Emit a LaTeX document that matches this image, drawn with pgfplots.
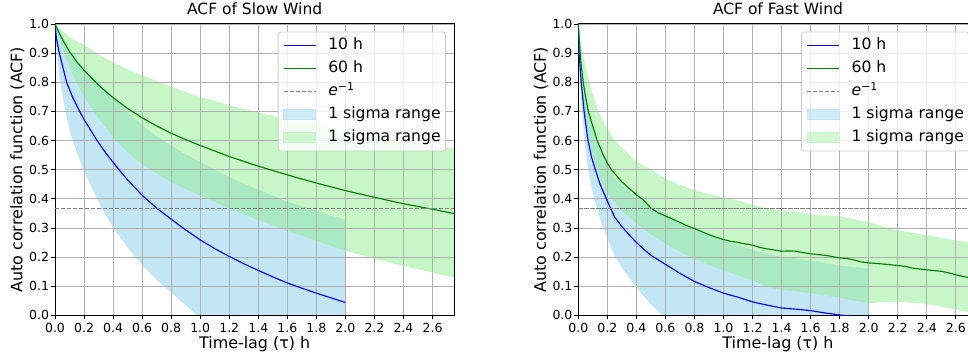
\documentclass[border=0pt]{standalone}
\usepackage{fontspec}
\setmainfont{DejaVu Sans}
\usepackage{pgfplots}
\pgfplotsset{compat=1.18}
\definecolor{mplblue}{RGB}{0,0,255}
\definecolor{mplgreen}{RGB}{0,128,0}
\definecolor{skyband}{RGB}{135,206,235}
\definecolor{greenband}{RGB}{144,238,144}
\definecolor{skyleg}{RGB}{195,230,245}
\definecolor{greenlegc}{RGB}{200,246,200}
\definecolor{gridgray}{RGB}{176,176,176}
\definecolor{dashgray}{RGB}{128,128,128}
\definecolor{legedge}{RGB}{204,204,204}

\pgfplotsset{
  acf/.style={
    set layers, clip mode=individual,
    scale only axis, width=399.3pt, height=291.3pt, anchor=south west,
    xmin=0, xmax=2.75, ymin=0, ymax=1,
    xtick={0,0.2,0.4,0.6,0.8,1.0,1.2,1.4,1.6,1.8,2.0,2.2,2.4,2.6},
    ytick={0,0.1,0.2,0.3,0.4,0.5,0.6,0.7,0.8,0.9,1.0},
    /pgf/number format/assume math mode=true,
    xticklabel style={/pgf/number format/.cd, fixed, fixed zerofill, precision=1, /tikz/.cd,
      font=\fontsize{12.5}{14}\selectfont, inner sep=0pt, anchor=north, yshift=-3.4pt},
    yticklabel style={/pgf/number format/.cd, fixed, fixed zerofill, precision=1, /tikz/.cd,
      font=\fontsize{12.5}{14}\selectfont, inner sep=0pt, anchor=east, xshift=-1.7pt},
    grid=major, major grid style={draw=gridgray, line width=0.8pt},
    tick pos=left, tick align=outside, major tick length=4pt,
    tick style={black, line width=0.8pt},
    axis line style={black, line width=1pt},
    title style={at={(axis description cs:0.5,1)}, anchor=base, yshift=3pt, font=\fontsize{15.5}{17}\selectfont},
    xlabel={Time-lag (τ) h},
    ylabel={Auto correlation function (ACF)},
    xlabel style={at={(axis description cs:0.5,0)}, anchor=base, yshift=-33pt, font=\fontsize{15.9}{18}\selectfont},
    ylabel style={at={(axis description cs:-0.0814,0.5)}, anchor=base, font=\fontsize{15.9}{18}\selectfont},
    legend cell align=left,
    legend style={at={(axis description cs:1,1)}, anchor=north east, xshift=-8.3pt, yshift=-7.7pt,
      draw=legedge, line width=0.8pt, rounded corners=2.5pt, fill=white, fill opacity=0.8, text opacity=1,
      font=\fontsize{15.6}{18}\selectfont, inner xsep=5pt, inner ysep=6pt,
      row sep=8pt, column sep=12pt,
      nodes={inner sep=0pt, text height=11.5pt, text depth=3.5pt}},
  },
  curve/.style={line width=1.15pt},
  legA/.style={legend image code/.code={\draw[mplblue, line width=1.15pt, solid, sharp corners] (0pt,0pt)--(32pt,0pt);}},
  legB/.style={legend image code/.code={\draw[mplgreen, line width=1.15pt, solid, sharp corners] (0pt,0pt)--(32pt,0pt);}},
  legC/.style={legend image code/.code={\draw[dashgray, line width=1.1pt, dash pattern=on 4.2pt off 1.8pt] (0pt,0pt)--(32pt,0pt);}},
  legD/.style={legend image code/.code={\fill[skyleg, sharp corners] (0pt,-5pt) rectangle (32pt,5pt);}},
  legE/.style={legend image code/.code={\fill[greenlegc, sharp corners] (0pt,-5pt) rectangle (32pt,5pt);}},
}

\begin{document}
\begin{tikzpicture}
% ---------------- Slow wind ----------------
\begin{axis}[acf, at={(55pt,42.7pt)}, title={ACF of Slow Wind}]
\addplot[draw=none, fill=skyband, fill opacity=0.5, on layer=axis background, forget plot] coordinates {
(0,1.0)(0.01,0.99)(0.03,0.98)(0.06,0.95)(0.1,0.915)(0.15,0.88)(0.2,0.849)(0.3,0.798)(0.4,0.75)(0.5,0.697)(0.6,0.652)(0.7,0.614)(0.8,0.582)(0.9,0.552)(1.0,0.527)(1.2,0.474)(1.4,0.431)(1.6,0.391)(1.8,0.358)(2.0,0.328)
(2.0,0)(0.98,0)(0.9,0.034)(0.8,0.078)(0.7,0.122)(0.6,0.172)(0.5,0.233)(0.4,0.30)(0.3,0.388)(0.2,0.495)(0.15,0.56)(0.1,0.635)(0.06,0.73)(0.03,0.82)(0.01,0.91)(0,1.0)};
\addplot[draw=none, fill=greenband, fill opacity=0.5, on layer=axis background, forget plot] coordinates {
(0,1.0)(0.05,0.978)(0.1,0.955)(0.15,0.94)(0.2,0.929)(0.3,0.895)(0.4,0.869)(0.5,0.845)(0.6,0.824)(0.7,0.804)(0.8,0.785)(0.9,0.767)(1.0,0.75)(1.2,0.722)(1.4,0.696)(1.6,0.673)(1.8,0.652)(2.0,0.633)(2.2,0.615)(2.4,0.597)(2.6,0.582)(2.75,0.572)
(2.75,0.128)(2.6,0.147)(2.4,0.169)(2.2,0.194)(2.0,0.221)(1.8,0.255)(1.6,0.29)(1.4,0.327)(1.2,0.367)(1.0,0.411)(0.9,0.433)(0.8,0.457)(0.7,0.487)(0.6,0.518)(0.5,0.56)(0.4,0.612)(0.3,0.676)(0.2,0.751)(0.15,0.795)(0.1,0.852)(0.05,0.918)(0,1.0)};
\addplot[mplblue, curve, forget plot] coordinates {
(0,1.0)(0.01,0.95)(0.03,0.9)(0.08,0.8)(0.12,0.75)(0.17,0.7)(0.2,0.672)(0.29,0.6)(0.35,0.557)(0.4,0.525)(0.44,0.5)(0.5,0.465)(0.6,0.412)(0.7,0.368)(0.8,0.33)(0.9,0.293)(1.0,0.259)(1.1,0.229)(1.2,0.202)(1.3,0.177)(1.4,0.154)(1.5,0.132)(1.6,0.111)(1.7,0.093)(1.8,0.076)(1.9,0.06)(2.0,0.044)};
\addplot[mplgreen, curve, forget plot] coordinates {
(0,1.0)(0.02,0.978)(0.05,0.948)(0.1,0.905)(0.15,0.87)(0.2,0.841)(0.3,0.79)(0.4,0.747)(0.5,0.71)(0.6,0.678)(0.7,0.65)(0.8,0.625)(0.9,0.603)(1.0,0.583)(1.2,0.545)(1.4,0.512)(1.6,0.482)(1.8,0.454)(2.0,0.428)(2.2,0.405)(2.4,0.383)(2.6,0.364)(2.75,0.349)};
\addplot[dashgray, line width=1.1pt, dash pattern=on 4.2pt off 1.8pt, forget plot] coordinates {(0,0.3679)(2.75,0.3679)};
\addlegendimage{legA}
\addlegendentry{10 h}
\addlegendimage{legB}
\addlegendentry{60 h}
\addlegendimage{legC}
\addlegendentry{\textit{e}\textsuperscript{−1}}
\addlegendimage{legD}
\addlegendentry{1 sigma range}
\addlegendimage{legE}
\addlegendentry{1 sigma range}
\end{axis}

% ---------------- Fast wind ----------------
\begin{axis}[acf, at={(578.3pt,42.7pt)}, title={ACF of Fast Wind}]
\addplot[draw=none, fill=skyband, fill opacity=0.5, on layer=axis background, forget plot] coordinates {
(0,1.0)(0.005,0.93)(0.02,0.86)(0.04,0.78)(0.067,0.7)(0.1,0.638)(0.15,0.57)(0.2,0.519)(0.25,0.47)(0.3,0.445)(0.4,0.405)(0.5,0.374)(0.6,0.35)(0.7,0.322)(0.8,0.296)(0.9,0.275)(1.0,0.256)(1.2,0.224)(1.4,0.2)(1.6,0.188)(1.8,0.171)(2.0,0.16)
(2.0,0)(0.58,0)(0.5,0.038)(0.4,0.095)(0.3,0.165)(0.25,0.204)(0.2,0.265)(0.15,0.33)(0.1,0.418)(0.067,0.5)(0.04,0.62)(0.02,0.74)(0.005,0.87)(0,1.0)};
\addplot[draw=none, fill=greenband, fill opacity=0.5, on layer=axis background, forget plot] coordinates {
(0,1.0)(0.01,0.96)(0.034,0.89)(0.069,0.81)(0.1,0.76)(0.138,0.7)(0.2,0.64)(0.253,0.6)(0.3,0.575)(0.4,0.528)(0.5,0.5)(0.6,0.47)(0.7,0.448)(0.8,0.43)(0.9,0.416)(1.0,0.405)(1.1,0.394)(1.2,0.38)(1.3,0.367)(1.4,0.36)(1.5,0.355)(1.6,0.346)(1.7,0.342)(1.8,0.34)(1.9,0.33)(2.0,0.32)(2.1,0.305)(2.2,0.292)(2.3,0.283)(2.4,0.275)(2.5,0.266)(2.6,0.257)(2.7,0.25)(2.75,0.246)
(2.75,0.006)(2.7,0.01)(2.6,0.019)(2.5,0.03)(2.4,0.038)(2.3,0.043)(2.2,0.046)(2.1,0.045)(2.0,0.042)(1.9,0.05)(1.8,0.06)(1.7,0.068)(1.6,0.076)(1.5,0.082)(1.4,0.087)(1.3,0.097)(1.2,0.12)(1.1,0.137)(1.0,0.154)(0.9,0.172)(0.8,0.194)(0.7,0.218)(0.6,0.246)(0.5,0.278)(0.4,0.315)(0.3,0.36)(0.2,0.418)(0.15,0.47)(0.1,0.55)(0.069,0.62)(0.034,0.74)(0.01,0.88)(0,1.0)};
\addplot[mplblue, curve, forget plot] coordinates {
(0,1.0)(0.005,0.9)(0.02,0.8)(0.04,0.7)(0.067,0.6)(0.09,0.545)(0.117,0.5)(0.15,0.45)(0.193,0.4)(0.223,0.367)(0.25,0.337)(0.3,0.305)(0.35,0.276)(0.4,0.25)(0.45,0.227)(0.5,0.206)(0.6,0.175)(0.7,0.144)(0.8,0.116)(0.9,0.095)(1.0,0.076)(1.1,0.062)(1.2,0.046)(1.3,0.035)(1.4,0.025)(1.5,0.021)(1.6,0.016)(1.7,0.008)(1.8,0.001)(1.9,-0.004)(2.0,-0.008)};
\addplot[mplgreen, curve, forget plot] coordinates {
(0,1.0)(0.01,0.92)(0.02,0.86)(0.034,0.8)(0.05,0.75)(0.069,0.7)(0.09,0.665)(0.13,0.6)(0.17,0.553)(0.2,0.522)(0.228,0.5)(0.3,0.458)(0.35,0.436)(0.4,0.414)(0.45,0.395)(0.5,0.368)(0.55,0.352)(0.6,0.341)(0.65,0.33)(0.7,0.319)(0.75,0.307)(0.8,0.298)(0.85,0.287)(0.9,0.277)(0.95,0.268)(1.0,0.26)(1.05,0.254)(1.1,0.25)(1.15,0.245)(1.2,0.241)(1.25,0.233)(1.3,0.228)(1.35,0.224)(1.4,0.22)(1.45,0.221)(1.5,0.22)(1.55,0.215)(1.6,0.211)(1.7,0.206)(1.8,0.197)(1.85,0.195)(1.9,0.19)(1.95,0.183)(2.0,0.18)(2.1,0.176)(2.2,0.171)(2.25,0.168)(2.3,0.162)(2.4,0.156)(2.5,0.151)(2.55,0.146)(2.6,0.139)(2.7,0.128)(2.75,0.124)};
\addplot[dashgray, line width=1.1pt, dash pattern=on 4.2pt off 1.8pt, forget plot] coordinates {(0,0.3679)(2.75,0.3679)};
\addlegendimage{legA}
\addlegendentry{10 h}
\addlegendimage{legB}
\addlegendentry{60 h}
\addlegendimage{legC}
\addlegendentry{\textit{e}\textsuperscript{−1}}
\addlegendimage{legD}
\addlegendentry{1 sigma range}
\addlegendimage{legE}
\addlegendentry{1 sigma range}
\end{axis}
\pgfresetboundingbox
\path[use as bounding box] (0,0) rectangle (968pt,358pt);
\end{tikzpicture}
\end{document}
